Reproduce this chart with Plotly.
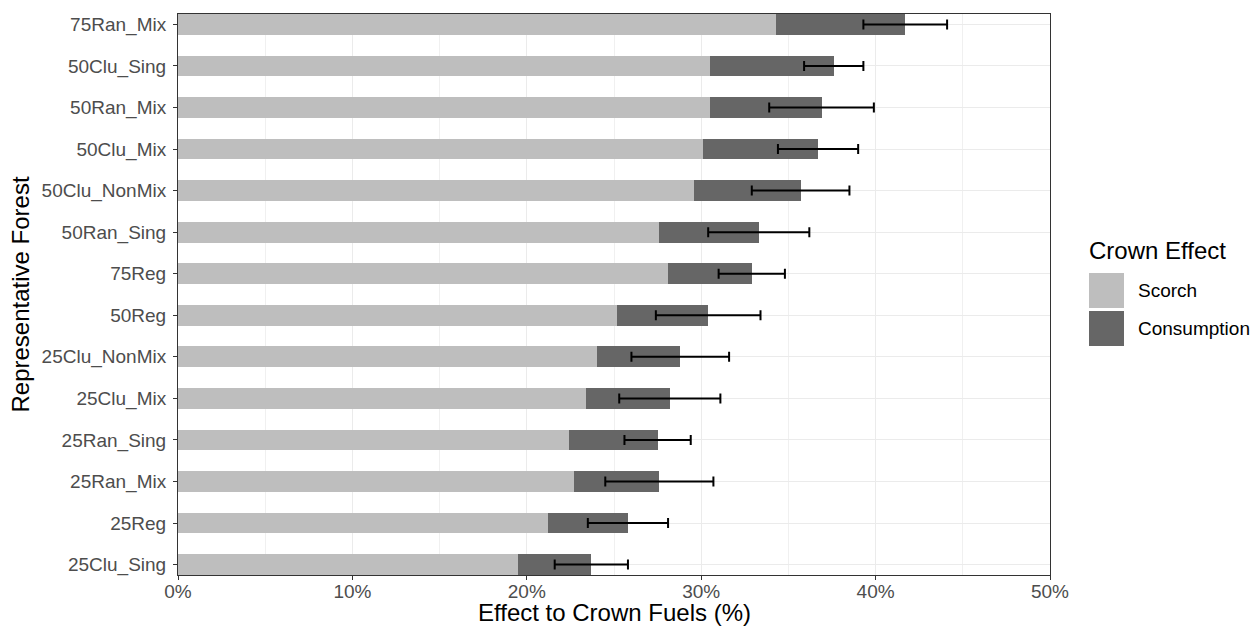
import plotly.graph_objects as go

forests = ["25Clu_Sing", "25Reg", "25Ran_Mix", "25Ran_Sing", "25Clu_Mix", "25Clu_NonMix",
           "50Reg", "75Reg", "50Ran_Sing", "50Clu_NonMix", "50Clu_Mix", "50Ran_Mix",
           "50Clu_Sing", "75Ran_Mix"]
scorch = [19.5, 21.2, 22.7, 22.4, 23.4, 24.0, 25.2, 28.1, 27.6, 29.6, 30.1, 30.5, 30.5, 34.3]
consumption = [4.2, 4.6, 4.9, 5.1, 4.8, 4.8, 5.2, 4.8, 5.7, 6.1, 6.6, 6.4, 7.1, 7.4]
err = [2.1, 2.3, 3.1, 1.9, 2.9, 2.8, 3.0, 1.9, 2.9, 2.8, 2.3, 3.0, 1.7, 2.4]

total = [s + c for s, c in zip(scorch, consumption)]

SCORCH_COL = "#BEBEBE"
CONS_COL = "#666666"
FONT = "Liberation Sans, Arial, sans-serif"

W, H = 1255, 626
L, R, T, B = 178, 205, 14, 51
pw, ph = W - L - R, H - T - B

def px(x):
    return (x - L) / pw

def py(y):
    return (H - B - y) / ph

fig = go.Figure()
fig.add_trace(go.Bar(y=forests, x=scorch, orientation="h", name="Scorch",
                     marker=dict(color=SCORCH_COL, line=dict(width=0)), width=0.5))
fig.add_trace(go.Bar(y=forests, x=consumption, orientation="h", name="Consumption",
                     marker=dict(color=CONS_COL, line=dict(width=0)), width=0.5))
fig.add_trace(go.Scatter(y=forests, x=total, mode="markers",
                         marker=dict(size=1, color="rgba(0,0,0,0)"),
                         error_x=dict(type="data", array=err, color="black",
                                      thickness=2, width=5),
                         showlegend=False, hoverinfo="skip"))

fig.update_layout(
    width=W, height=H, barmode="stack", showlegend=False,
    margin=dict(l=L, r=R, t=T, b=B, autoexpand=False),
    paper_bgcolor="white", plot_bgcolor="white",
    font=dict(family=FONT),
    xaxis=dict(range=[0, 50], dtick=10, ticksuffix="%", showgrid=True, automargin=False,
               gridcolor="#EBEBEB", gridwidth=1.2, zeroline=False,
               minor=dict(dtick=5, showgrid=True, gridcolor="#F0F0F0", gridwidth=1),
               ticks="outside", ticklen=4, tickcolor="#333333", tickwidth=1,
               ticklabelstandoff=-5,
               tickfont=dict(size=19, color="#4D4D4D"),
               showline=True, mirror=True, linecolor="#333333", linewidth=1),
    yaxis=dict(categoryorder="array", categoryarray=forests, range=[-0.25, 13.25],
               showgrid=True, gridcolor="#EBEBEB", gridwidth=1.2, automargin=False,
               ticks="outside", ticklen=4, tickcolor="#333333", tickwidth=1,
               ticklabelstandoff=3,
               tickfont=dict(size=19, color="#4D4D4D"),
               showline=True, mirror=True, linecolor="#333333", linewidth=1),
)

# axis titles
fig.add_annotation(x=0.5, y=py(612), xref="paper", yref="paper",
                   text="Effect to Crown Fuels (%)", showarrow=False,
                   xanchor="center", yanchor="middle",
                   font=dict(size=24, color="black", family=FONT))
fig.add_annotation(x=px(20), y=0.5, xref="paper", yref="paper",
                   text="Representative Forest", showarrow=False, textangle=-90,
                   xanchor="center", yanchor="middle",
                   font=dict(size=24, color="black", family=FONT))

# manual legend
fig.add_annotation(x=px(1087), y=py(250), xref="paper", yref="paper", text="Crown Effect",
                   showarrow=False, xanchor="left", yanchor="middle",
                   font=dict(size=24, color="black", family=FONT))
for (y0, y1), lab, col in [((273, 308), "Scorch", SCORCH_COL),
                           ((311, 346), "Consumption", CONS_COL)]:
    fig.add_shape(type="rect", xref="paper", yref="paper",
                  x0=px(1089), x1=px(1124), y0=py(y1), y1=py(y0),
                  fillcolor=col, line=dict(width=0))
    fig.add_annotation(x=px(1136), y=py((y0 + y1) / 2), xref="paper", yref="paper",
                       text=lab, showarrow=False, xanchor="left", yanchor="middle",
                       font=dict(size=19, color="black", family=FONT))

fig.write_html("out.html", config={"displayModeBar": False},
               post_script="document.body.style.margin='0';document.body.style.overflow='hidden';")
